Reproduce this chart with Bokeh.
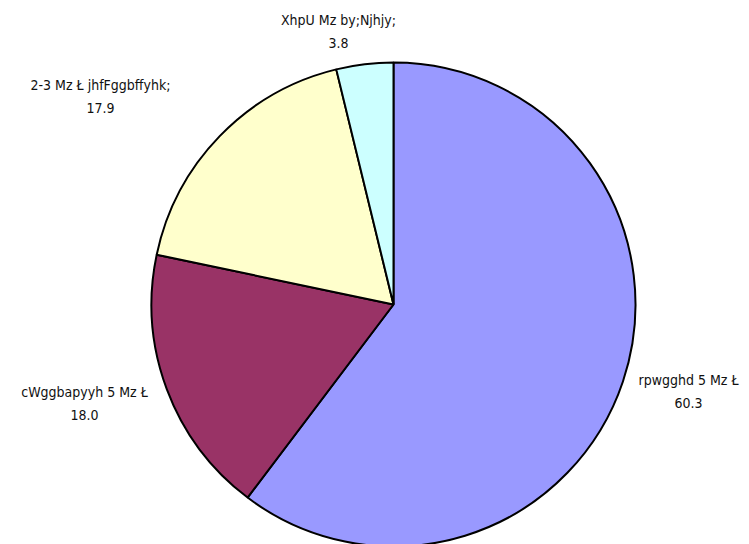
import math
from bokeh.plotting import figure
from bokeh.models import Range1d, ColumnDataSource
from bokeh.core.properties import value
from bokeh.embed import file_html
from bokeh.resources import INLINE

# ---- data ----
categories = ["rpwgghd 5 Mz Ł", "cWggbapyyh 5 Mz Ł", "2-3 Mz Ł jhfFggbffyhk;", "XhpU Mz by;Njhjy;"]
values = [60.3, 18.0, 17.9, 3.8]
value_labels = ["60.3", "18.0", "17.9", "3.8"]
colors = ["#9999FF", "#993366", "#FFFFCC", "#CCFFFF"]

# ---- layout (page pixels) ----
W, H = 749, 544
MARGIN = 0
center_px = (393, 304)
radius_px = 242
label_pos_px = [(688, 391), (84, 403), (100, 96), (338, 31)]

def to_data(px, py):
    return px - MARGIN, (H + MARGIN) - py

p = figure(width=W, height=H, output_backend="svg", toolbar_location=None,
           x_range=Range1d(0, W), y_range=Range1d(0, H), min_border=0)
p.axis.visible = False
p.grid.visible = False
p.outline_line_color = None
p.background_fill_color = "white"

total = sum(values)
starts, ends = [], []
cum = 0.0
for v in values:
    starts.append(math.pi / 2 - 2 * math.pi * cum / total)
    cum += v
    ends.append(math.pi / 2 - 2 * math.pi * cum / total)

cx, cy = to_data(*center_px)
src = ColumnDataSource(dict(x=[cx] * len(values), y=[cy] * len(values),
                            start=starts, end=ends, color=colors))
p.wedge(x="x", y="y", radius=radius_px, start_angle="start", end_angle="end",
        direction="clock", fill_color="color", line_color="black", line_width=2,
        source=src)

lx, ly = zip(*[to_data(*q) for q in label_pos_px])
texts = [f"{c}\n{v}" for c, v in zip(categories, value_labels)]
p.text(x=list(lx), y=list(ly), text=texts, text_align="center", text_baseline="middle",
       text_font=value("DejaVu Sans Condensed"), text_font_size="14px",
       text_line_height=1.45, text_color="#111111")

open("out.html", "w").write(file_html(p, INLINE))
